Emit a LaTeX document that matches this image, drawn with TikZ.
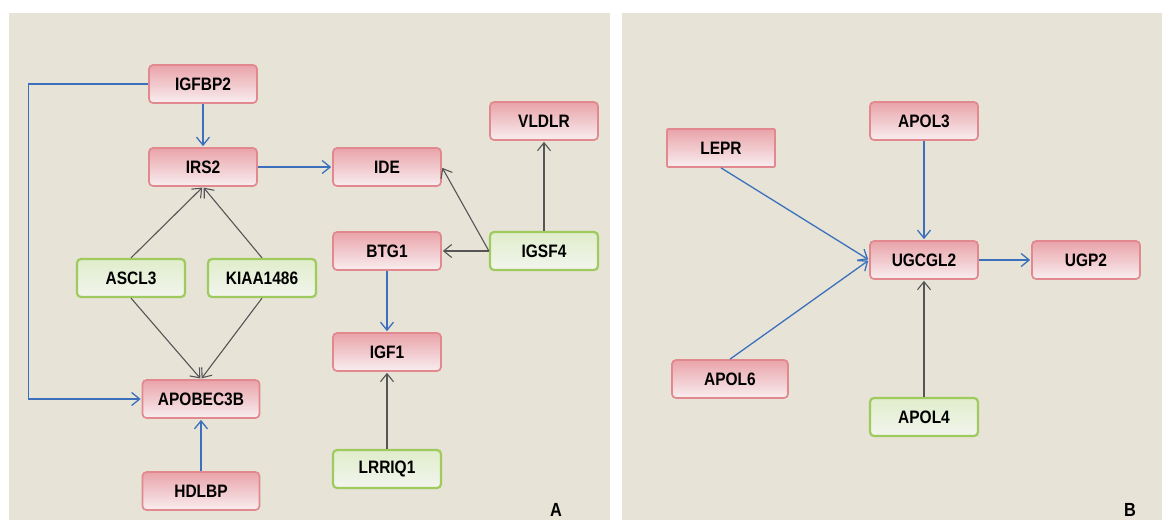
\documentclass[tikz,border=0pt]{standalone}
\usepackage{fontspec}
\setmainfont{Liberation Sans}[FakeStretch=0.86]
\usetikzlibrary{arrows.meta,positioning}

\definecolor{panelbg}{HTML}{E7E4D7}
\definecolor{genedraw}{HTML}{E2898F}
\definecolor{genetop}{HTML}{E9A3A9}
\definecolor{genebot}{HTML}{F8EEF0}
\definecolor{drvdraw}{HTML}{9FCB5E}
\definecolor{drvtop}{HTML}{E0EDCB}
\definecolor{drvbot}{HTML}{F3F5EE}
\definecolor{edgeblue}{HTML}{3C70BC}
\definecolor{edgegray}{HTML}{555555}

\tikzset{
  gene/.style={draw=genedraw, line width=1.7pt, rounded corners=4pt,
    top color=genetop, bottom color=genebot,
    minimum width=108pt, minimum height=38pt, inner sep=0pt,
    font=\fontsize{18}{21}\selectfont\bfseries},
  driver/.style={gene, draw=drvdraw, top color=drvtop, bottom color=drvbot, line width=2.2pt},
  blueedge/.style={every edge/.append style={->, draw=edgeblue, line width=1.3pt}},
  grayedge/.style={every edge/.append style={->, draw=edgegray, line width=1.1pt}},
  panel/.style={fill=panelbg, draw=none},
  tag/.style={font=\fontsize{19}{22}\selectfont\bfseries}
}

\begin{document}
\begin{tikzpicture}[x=1pt,y=-1pt,>={Straight Barb[length=8pt,width=13pt]},shorten >=1pt,on grid]
   \useasboundingbox[fill=white] (0,0) rectangle (1162,520);
   \fill[panel] (9,13) rectangle (610,520);
   \fill[panel] (622,13) rectangle (1162,520);

   % panel A
   \node[gene] (IGFBP2) at (203,84) {IGFBP2};
   \node[gene] (IRS2) [below=83pt of IGFBP2] {IRS2};
   \node[gene] (IDE) [right=184pt of IRS2] {IDE};
   \node[gene] (BTG1) [below=84pt of IDE] {BTG1};
   \node[driver] (IGSF4) [right=157pt of BTG1] {IGSF4};
   \node[gene] (VLDLR) [above=130pt of IGSF4] {VLDLR};
   \node[gene] (IGF1) [below=101pt of BTG1] {IGF1};
   \node[driver] (LRRIQ1) [below=117pt of IGF1] {LRRIQ1};
   \node[driver] (ASCL3) [below left=111pt and 72pt of IRS2] {ASCL3};
   \node[driver] (KIAA1486) [below right=111pt and 59pt of IRS2] {KIAA1486};
   \node[gene,minimum width=117pt] (APOBEC3B) [below left=232pt and 2pt of IRS2] {APOBEC3B};
   \node[gene,minimum width=117pt] (HDLBP) [below=92pt of APOBEC3B] {HDLBP};
   \node[tag] (tagA) at (556,510) {A};

   % panel B
   \node[gene] (UGCGL2) at (924,260) {UGCGL2};
   \node[gene] (APOL3) [above=139pt of UGCGL2] {APOL3};
   \node[gene] (UGP2) [right=162pt of UGCGL2] {UGP2};
   \node[driver] (APOL4) [below=157pt of UGCGL2] {APOL4};
   \node[gene,rounded corners=1pt] (LEPR) [above left=112pt and 203pt of UGCGL2] {LEPR};
   \node[gene,minimum width=116pt] (APOL6) [below left=119pt and 194pt of UGCGL2] {APOL6};
   \node[tag] (tagB) at (1130,510) {B};

    \path[blueedge]
    (IGFBP2) edge (IRS2)
    (IGFBP2.west) edge [to path={-- ++(-120,0) |- (\tikztotarget)}] (APOBEC3B.west)
    (IRS2) edge (IDE)
    (HDLBP) edge (APOBEC3B)
    (BTG1) edge (IGF1)
    (LEPR.south) edge (UGCGL2.west)
    (APOL6.north) edge (UGCGL2.west)
    (APOL3) edge (UGCGL2)
    (UGCGL2) edge (UGP2);
    \path[grayedge]
    (ASCL3.north) edge (IRS2.south)
    (KIAA1486.north) edge (IRS2.south)
    (ASCL3.south) edge (APOBEC3B.north)
    (KIAA1486.south) edge (APOBEC3B.north)
    (IGSF4.west) edge (IDE.east)
          edge (BTG1.east)
    (IGSF4) edge (VLDLR)
    (LRRIQ1) edge (IGF1)
    (APOL4) edge (UGCGL2);
\end{tikzpicture}
\end{document}
